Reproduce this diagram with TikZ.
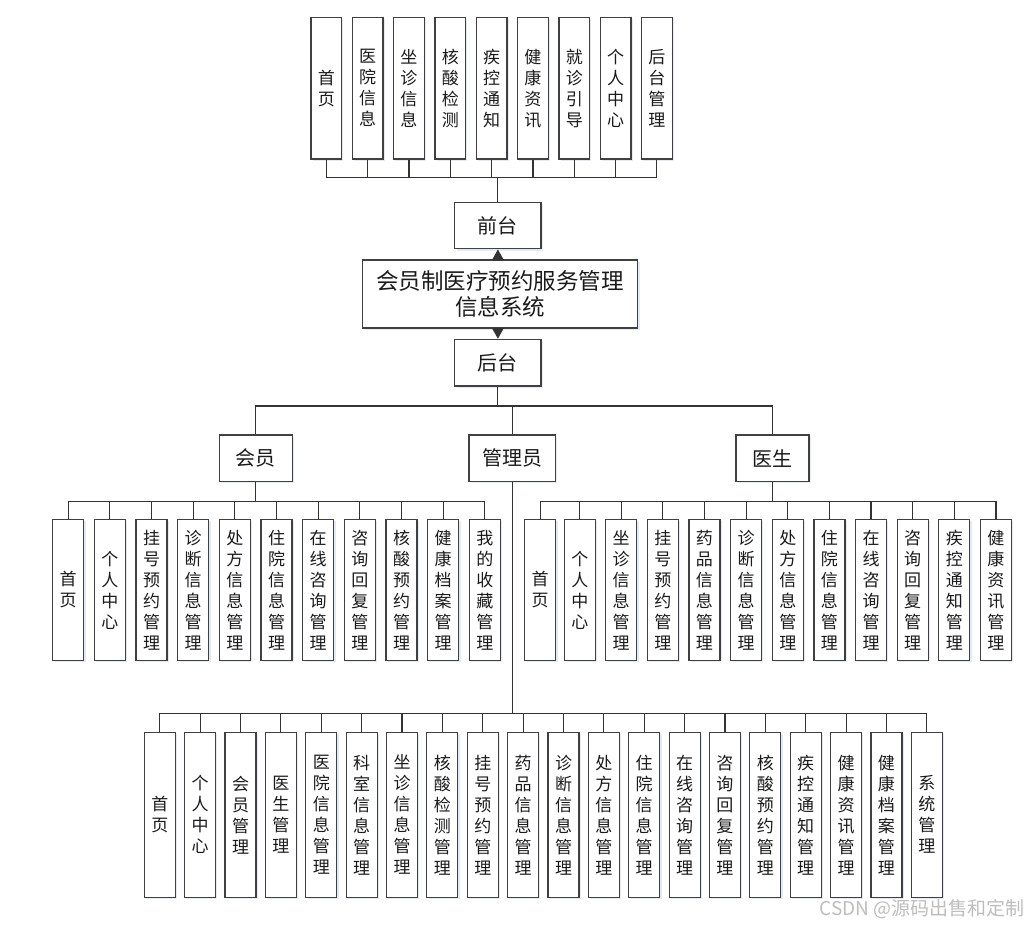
\documentclass[tikz,border=0pt]{standalone}
\usepackage{fontspec}
\setmainfont{Noto Sans CJK SC}
\usetikzlibrary{arrows.meta,shadows}
\definecolor{boxc}{HTML}{404040}
\definecolor{linec}{HTML}{333333}
\definecolor{txtc}{HTML}{1A1A1A}
\definecolor{shadc}{HTML}{D2DCEE}
\begin{document}
\begin{tikzpicture}[x=1pt,y=-1pt,
  box/.style={draw=boxc, line width=1.2pt, fill=white, inner sep=0pt, align=center, text=txtc,
    drop shadow={shadow xshift=1.8pt, shadow yshift=-1.8pt, fill=shadc, opacity=0.6}},
  vbox/.style={box, minimum width=31pt, minimum height=141.3pt, font=\fontsize{17}{21}\selectfont},
  vboxl/.style={box, minimum width=31pt, minimum height=165pt, font=\fontsize{17}{21}\selectfont},
  hbox/.style={box, minimum height=46.7pt, font=\fontsize{20}{24}\selectfont},
  link/.style={draw=linec, line width=1.1pt},
  tip/.style={-{Triangle[length=11pt,width=12pt]}}
]
\useasboundingbox (0,0) rectangle (1029,927);

% central system and front/back
\node[box, minimum width=275pt, minimum height=68pt, font=\fontsize{22.5}{26.7}\selectfont] (sys) at (500.2,294) {会员制医疗预约服务管理\\信息系统};
\node[hbox, minimum width=86.3pt] (qian) at (497.9,225.5) {前台};
\node[hbox, minimum width=86.3pt] (hou) at (497.9,362.7) {后台};
\draw[link,tip] (sys.north -| qian.south) -- (qian.south);
\draw[link,tip] (sys.south -| hou.north) -- (hou.north);

% front-end modules
\path (qian.north) ++(0,-24.3) coordinate (b1);
\foreach \t [count=\i] in {{首\\页},{医\\院\\信\\息},{坐\\诊\\信\\息},{核\\酸\\检\\测},{疾\\控\\通\\知},{健\\康\\资\\讯},{就\\诊\\引\\导},{个\\人\\中\\心},{后\\台\\管\\理}}{
  \node[vbox, minimum width=30.7pt] (t\i) at ({326.3+41.33*(\i-1)},88.3) {\t};
}
\foreach \i in {1,...,9}{ \draw[link] (qian.north) -- (b1) -| (t\i.south); }

% roles
\node[hbox, minimum width=73pt] (hy) at (255.8,458.3) {会员};
\node[hbox, minimum width=86.7pt] (gly) at (512.3,458.3) {管理员};
\node[hbox, minimum width=73pt] (ys) at (772.5,458.3) {医生};
\path (hou.south) ++(0,19.3) coordinate (b2);
\draw[link] (hou.south) -- (b2) -| (hy.north);
\draw[link] (hou.south) -- (b2) -| (gly.north);
\draw[link] (hou.south) -- (b2) -| (ys.north);

% member modules
\path (hy.south) ++(0,19.3) coordinate (bm);
\foreach \t [count=\i] in {{首\\页},{个\\人\\中\\心},{挂\\号\\预\\约\\管\\理},{诊\\断\\信\\息\\管\\理},{处\\方\\信\\息\\管\\理},{住\\院\\信\\息\\管\\理},{在\\线\\咨\\询\\管\\理},{咨\\询\\回\\复\\管\\理},{核\\酸\\预\\约\\管\\理},{健\\康\\档\\案\\管\\理},{我\\的\\收\\藏\\管\\理}}{
  \node[vbox] (m\i) at ({68.2+41.67*(\i-1)},590) {\t};
  \draw[link] (hy.south) -- (bm) -| (m\i.north);
}

% doctor modules
\path (ys.south) ++(0,19.3) coordinate (bd);
\foreach \x/\t [count=\i] in {540.2/{首\\页},579.8/{个\\人\\中\\心},621.2/{坐\\诊\\信\\息\\管\\理},662.84/{挂\\号\\预\\约\\管\\理},704.48/{药\\品\\信\\息\\管\\理},746.12/{诊\\断\\信\\息\\管\\理},787.76/{处\\方\\信\\息\\管\\理},829.4/{住\\院\\信\\息\\管\\理},871.04/{在\\线\\咨\\询\\管\\理},912.68/{咨\\询\\回\\复\\管\\理},954.32/{疾\\控\\通\\知\\管\\理},995.96/{健\\康\\资\\讯\\管\\理}}{
  \node[vbox] (d\i) at (\x,590) {\t};
  \draw[link] (ys.south) -- (bd) -| (d\i.north);
}

% admin modules
\path (gly.south) ++(0,231.6) coordinate (ba);
\foreach \t [count=\i] in {{首\\页},{个\\人\\中\\心},{会\\员\\管\\理},{医\\生\\管\\理},{医\\院\\信\\息\\管\\理},{科\\室\\信\\息\\管\\理},{坐\\诊\\信\\息\\管\\理},{核\\酸\\检\\测\\管\\理},{挂\\号\\预\\约\\管\\理},{药\\品\\信\\息\\管\\理},{诊\\断\\信\\息\\管\\理},{处\\方\\信\\息\\管\\理},{住\\院\\信\\息\\管\\理},{在\\线\\咨\\询\\管\\理},{咨\\询\\回\\复\\管\\理},{核\\酸\\预\\约\\管\\理},{疾\\控\\通\\知\\管\\理},{健\\康\\资\\讯\\管\\理},{健\\康\\档\\案\\管\\理},{系\\统\\管\\理}}{
  \node[vboxl] (a\i) at ({159.8+40.37*(\i-1)},814.8) {\t};
  \draw[link] (gly.south) -- (ba) -| (a\i.north);
}

% watermark
\node[anchor=east, inner sep=0pt, text=black!26, font=\fontsize{19}{22}\selectfont] (wm) at (1025,909) {CSDN @源码出售和定制};
\end{tikzpicture}
\end{document}
